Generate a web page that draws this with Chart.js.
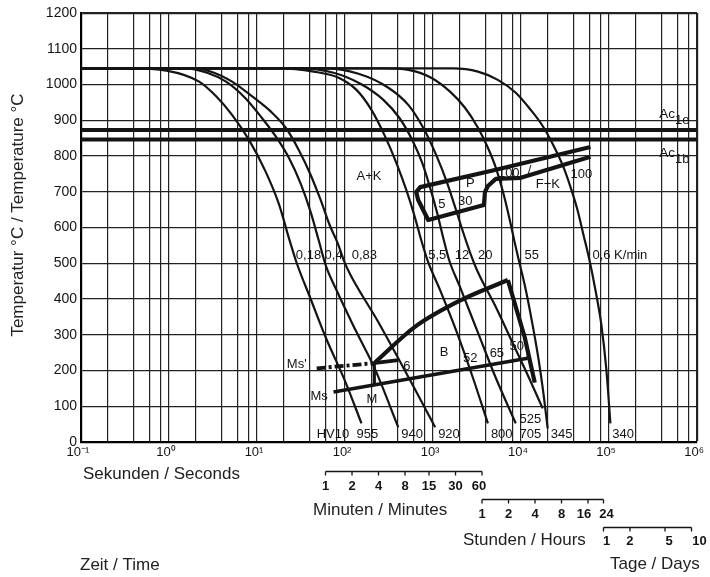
<!DOCTYPE html>
<html>
<head>
<meta charset="utf-8">
<script src="https://cdn.jsdelivr.net/npm/chart.js@4.4.1/dist/chart.umd.min.js"></script>
<style>
  html, body { margin: 0; padding: 0; background: #fff; }
  #wrap { width: 710px; height: 577px; }
</style>
</head>
<body>
<div id="wrap"><canvas id="cct" width="710" height="577"></canvas></div>
<script>
// ===========================
// ZTU / CCT diagram
// time in seconds (log axis), temperature in °C
// ===========================

const gridTimes = [0.1, 0.2, 0.4, 0.6, 0.8, 1, 2, 4, 6, 8, 10, 20, 40, 60, 80, 100, 200, 400, 600, 800,
  1000, 2000, 4000, 6000, 8000, 1e4, 2e4, 4e4, 6e4, 8e4, 1e5, 2e5, 4e5, 6e5, 8e5, 1e6]
const decadeTimes = [0.1, 1, 10, 100, 1000, 1e4, 1e5, 1e6]
const decadeLabels = ['10⁻¹', '10⁰', '10¹', '10²', '10³', '10⁴', '10⁵', '10⁶']
const minuteTicks = [1, 2, 4, 8, 15, 30, 60]
const hourTicks = [1, 2, 4, 8, 16, 24]
const dayTicks = [1, 2, 5, 10]

// cooling curves [t (s), T (°C)]
const cool_0_18 = [[0.1, 1045], [0.356, 1045], [0.932, 1039], [2.2, 1008], [3.43, 967], [5.2, 915], [8.1, 845],
  [12.6, 755], [17.7, 666], [23, 571], [28.3, 500], [40.7, 400], [60.2, 293], [101.4, 167], [153.7, 52]]
const cool_0_4 = [[0.1, 1045], [1.49, 1045], [2.71, 1033], [4.45, 1008], [7.29, 963], [11.07, 910], [16.4, 854],
  [23, 795], [31.4, 722], [40.7, 643], [50.1, 565], [60.2, 495], [78.2, 430], [131.5, 313], [221.4, 201], [402.7, 41]]
const cool_0_83 = [[0.1, 1045], [1.93, 1045], [3.25, 1033], [5.2, 1008], [9.22, 963], [14.4, 924], [21.2, 879],
  [29.8, 817], [40.7, 747], [52.8, 677], [66.8, 607], [82.3, 557], [98.7, 503], [115.4, 467], [239.3, 335],
  [565, 167], [1057, 41]]
const cool_5_5 = [[0.1, 1045], [17.7, 1045], [44, 1036], [84.5, 1019], [134.9, 985], [199.5, 929], [279.7, 859],
  [382.6, 781], [496.5, 705], [611.2, 635], [733.2, 565], [880.5, 503], [1202, 425], [1824, 313], [2843, 179],
  [4199, 52]]
const cool_12 = [[0.1, 1045], [29.8, 1045], [74.1, 1033], [149.7, 1002], [272.5, 957], [413.2, 907], [580.3, 845],
  [753.3, 781], [927.3, 711], [1112, 641], [1300, 573], [1522, 509], [2027, 433], [3155, 313], [5171, 179],
  [8706, 52]]
const cool_20 = [[0.1, 1045], [57.2, 1045], [142.2, 1030], [310.5, 991], [522.9, 943], [773.2, 879], [1084, 803],
  [1445, 725], [1824, 649], [2250, 579], [2698, 523], [3237, 475], [5036, 383], [8052, 276], [12219, 181],
  [17601, 94]]
const cool_55 = [[0.1, 1045], [272.5, 1045], [522.9, 1041], [952, 1019], [1560, 980], [2306, 935], [3237, 879],
  [4199, 823], [5171, 767], [6367, 691], [7446, 621], [8484, 557], [9413, 509], [11010, 439], [13209, 341],
  [15856, 229], [18059, 131], [20050, 38]]
const cool_0_6 = [[0.1, 1045], [1687, 1045], [3237, 1036], [5445, 1013], [8706, 977], [12875, 929], [17601, 884],
  [22840, 834], [29620, 775], [36480, 713], [43760, 649], [51180, 579], [59840, 509], [69960, 425],
  [81820, 327], [93240, 201], [103500, 52]]
const coolingCurves = [cool_0_18, cool_0_4, cool_0_83, cool_5_5, cool_12, cool_20, cool_55, cool_0_6]

// transformation lines
const ac1e = [[0.1, 873], [1e6, 873]]
const ac1b = [[0.1, 846], [1e6, 846]]
const pearlite = [[61400, 825], [5040, 761], [715, 713], [644, 699], [678, 677], [881, 621], [3785, 663],
  [3885, 699], [4200, 716], [5165, 736], [9930, 739], [61400, 798]]
const bainiteRise = [[220, 223], [622, 322], [2080, 397], [7080, 453]]
const bainiteFall = [[7080, 453], [11000, 293], [14300, 166]]
const msLine = [[74, 140], [11900, 234]]
const msEndTick = [[11900, 234], [11900, 254]]
const msPrime = [[47.6, 206], [200, 220]]
const sixBar = [[200, 220], [403, 229]]
const mDrop = [[215, 220], [215, 163]]

// texts placed at [t, T] (left edge, baseline)
const notes = [
  ['0,18', 27.6, 511], ['0,4', 58.6, 511], ['0,83', 119, 511], ['5,5', 881, 511], ['12', 1766, 511],
  ['20', 3236, 511], ['55', 10920, 511], ['0,6 K/min', 64700, 511],
  ['HV10', 47.6, 10], ['955', 135, 10], ['940', 436, 10], ['920', 1142, 10], ['800', 4540, 10],
  ['705', 9590, 10], ['345', 21700, 10], ['340', 108900, 10], ['525', 9590, 52],
  ['A+K', 135, 733], ['P', 2367, 713], ['5', 1142, 654], ['30', 1923, 663], ['100', 5455, 741],
  ['/', 11900, 749], ['F+K', 14670, 711], ['100', 36500, 739],
  ['B', 1194, 240], ['52', 2190, 224], ['65', 4395, 237], ['50', 7390, 257], ['6', 459, 201],
  ['M', 175, 108], ["Ms'", 21.8, 206], ['Ms', 40.4, 117]
]
const subNotes = [['Ac', '1e', 371000, 906], ['Ac', '1b', 371000, 798]]

const FONT = '"Liberation Sans", Arial, sans-serif'
const INK = '#141414'

function lineSet(pts, width, extra) {
  return Object.assign({
    data: pts.map((p) => ({ x: p[0], y: p[1] })),
    borderColor: INK,
    borderWidth: width,
    pointRadius: 0,
    fill: false,
    tension: 0,
    borderJoinStyle: 'round',
    borderCapStyle: 'butt'
  }, extra || {})
}

const datasets = [
  ...coolingCurves.map((c) => lineSet(c, 2.2, { cubicInterpolationMode: 'monotone' })),
  lineSet(ac1e, 4),
  lineSet(ac1b, 4),
  lineSet(pearlite, 4.2),
  lineSet(bainiteRise, 4.2, { cubicInterpolationMode: 'monotone' }),
  lineSet(bainiteFall, 4.2),
  lineSet(msLine, 3.6),
  lineSet(msEndTick, 2),
  lineSet(msPrime, 3.8, { borderDash: [9, 3, 3, 3] }),
  lineSet(sixBar, 3.6),
  lineSet(mDrop, 3.2)
]

const timeBars = [
  { ticks: minuteTicks, unit: 60, y: 471.5, labelY: 490, nudge: { 60: -3 } },
  { ticks: hourTicks, unit: 3600, y: 499.5, labelY: 518, nudge: { 16: -4, 24: 3 } },
  { ticks: dayTicks, unit: 86400, y: 527.5, labelY: 545, nudge: { 1: 3, 5: 4, 10: 8 } }
]
const titles = [
  ['Sekunden / Seconds', 83, 479],
  ['Minuten / Minutes', 313, 515],
  ['Stunden / Hours', 463, 545],
  ['Tage / Days', 610, 569],
  ['Zeit / Time', 80, 570]
]

const decorPlugin = {
  id: 'decor',
  afterDatasetsDraw(chart) {
    const { ctx, scales: { x, y } } = chart
    ctx.save()
    ctx.fillStyle = INK
    ctx.textAlign = 'left'
    ctx.textBaseline = 'alphabetic'
    ctx.font = '13px ' + FONT
    notes.forEach(([txt, t, T]) => {
      ctx.fillText(txt, x.getPixelForValue(t), y.getPixelForValue(T))
    })
    subNotes.forEach(([main, sub, t, T]) => {
      const px = x.getPixelForValue(t)
      const py = y.getPixelForValue(T)
      ctx.font = '13.5px ' + FONT
      ctx.fillText(main, px, py)
      const w = ctx.measureText(main).width
      ctx.font = '13px ' + FONT
      ctx.fillText(sub, px + w, py + 6)
    })
    ctx.restore()
  },
  afterDraw(chart) {
    const { ctx, scales: { x } } = chart
    ctx.save()
    ctx.strokeStyle = INK
    ctx.fillStyle = INK
    ctx.lineWidth = 1.3
    timeBars.forEach((bar) => {
      const xs = bar.ticks.map((v) => x.getPixelForValue(v * bar.unit))
      ctx.beginPath()
      ctx.moveTo(xs[0], bar.y)
      ctx.lineTo(xs[xs.length - 1], bar.y)
      xs.forEach((px) => {
        ctx.moveTo(px, bar.y)
        ctx.lineTo(px, bar.y + 4)
      })
      ctx.stroke()
      ctx.font = 'bold 13px ' + FONT
      ctx.textAlign = 'center'
      bar.ticks.forEach((v, i) => {
        ctx.fillText(String(v), xs[i] + (bar.nudge[v] || 0), bar.labelY)
      })
    })
    ctx.font = '17px ' + FONT
    ctx.fillStyle = '#222'
    ctx.textAlign = 'left'
    titles.forEach(([txt, px, py]) => ctx.fillText(txt, px, py))
    ctx.translate(23, 215)
    ctx.rotate(-Math.PI / 2)
    ctx.textAlign = 'center'
    ctx.fillText('Temperatur °C / Temperature °C', 0, 0)
    ctx.restore()
  }
}

new Chart(document.getElementById('cct'), {
  type: 'line',
  data: { datasets },
  options: {
    responsive: false,
    animation: false,
    parsing: false,
    layout: { autoPadding: false, padding: { left: 0, right: 10, top: 13, bottom: 0 } },
    plugins: { legend: { display: false }, tooltip: { enabled: false } },
    scales: {
      x: {
        type: 'logarithmic',
        min: 0.1,
        max: 1e6,
        afterBuildTicks: (scale) => {
          scale.ticks = gridTimes.map((v) => ({ value: v }))
        },
        afterFit: (scale) => {
          scale.height = 135
        },
        ticks: {
          autoSkip: false,
          maxRotation: 0,
          padding: 3,
          labelOffset: -3,
          color: INK,
          font: { family: FONT, size: 13 },
          callback: (v) => {
            const i = decadeTimes.findIndex((d) => Math.abs(d - v) / d < 1e-6)
            return i >= 0 ? decadeLabels[i] : ''
          }
        },
        grid: {
          color: '#222',
          lineWidth: (c) => (c.tick && c.tick.value >= 1e6 ? 2.2 : 1.2),
          drawTicks: false
        },
        border: { color: '#000', width: 2.2 }
      },
      y: {
        min: 0,
        max: 1200,
        afterFit: (scale) => {
          scale.width = 81
        },
        ticks: {
          stepSize: 100,
          padding: 4,
          color: INK,
          font: { family: FONT, size: 14 },
          callback: (v) => String(v)
        },
        grid: {
          color: '#222',
          lineWidth: (c) => (c.tick && c.tick.value >= 1200 ? 2.2 : 1.2),
          drawTicks: false
        },
        border: { color: '#000', width: 2.2 }
      }
    }
  },
  plugins: [decorPlugin]
})
</script>
</body>
</html>
